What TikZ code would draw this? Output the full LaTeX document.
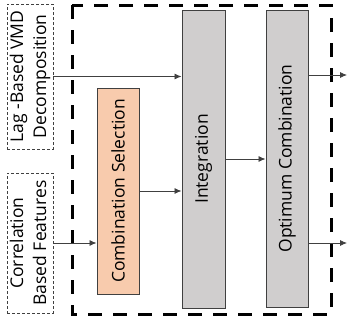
\documentclass[tikz,border=0pt]{standalone}
\usepackage{fontspec}
\setmainfont{Open Sans}
\usetikzlibrary{arrows.meta}
\definecolor{peach}{RGB}{248,203,173}
\definecolor{boxgray}{RGB}{208,206,206}
\definecolor{linegray}{RGB}{64,64,64}

\begin{document}
\begin{tikzpicture}[x=1pt, y=-1pt,
  every node/.style={font=\fontsize{17.5}{23}\selectfont, inner sep=0pt},
  inbox/.style={draw=linegray, line width=0.8pt, dash pattern=on 3pt off 2pt},
  block/.style={draw=linegray, line width=1pt, fill=boxgray},
  arr/.style={draw=linegray, line width=0.8pt, -{Latex[length=7pt,width=6pt]}}]
\useasboundingbox (0,0) rectangle (347,325);
\node[inbox, minimum width=44pt, minimum height=145pt] (lag) at (30,76.5)
  {\rotatebox{90}{\begin{tabular}{@{}c@{}}Lag -Based VMD\\Decomposition\end{tabular}}};
\node[inbox, minimum width=44pt, minimum height=140pt] (corr) at (30,243)
  {\rotatebox{90}{\begin{tabular}{@{}c@{}}Correlation\\Based Features\end{tabular}}};
\draw[line width=3pt, dash pattern=on 14pt off 11pt] (72,5) rectangle (331,314);
\node[block, fill=peach, minimum width=42pt, minimum height=206pt] (sel) at (118,191)
  {\rotatebox{90}{Combination Selection}};
\node[block, minimum width=43pt, minimum height=298pt] (integ) at (203.5,159)
  {\rotatebox{90}{Integration}};
\node[block, minimum width=42pt, minimum height=297pt] (optim) at (287,158.5)
  {\rotatebox{90}{Optimum Combination}};
\coordinate (out1) at (347,75);
\coordinate (out2) at (347,243);
\draw[arr] (lag.east) -- (lag.east -| integ.west);
\draw[arr] (corr.east) -- (corr.east -| sel.west);
\draw[arr] (sel.east) -- (sel.east -| integ.west);
\draw[arr] (integ.east) -- (integ.east -| optim.west);
\draw[arr] (optim.east |- out1) -- (out1);
\draw[arr] (optim.east |- out2) -- (out2);
\end{tikzpicture}
\end{document}
